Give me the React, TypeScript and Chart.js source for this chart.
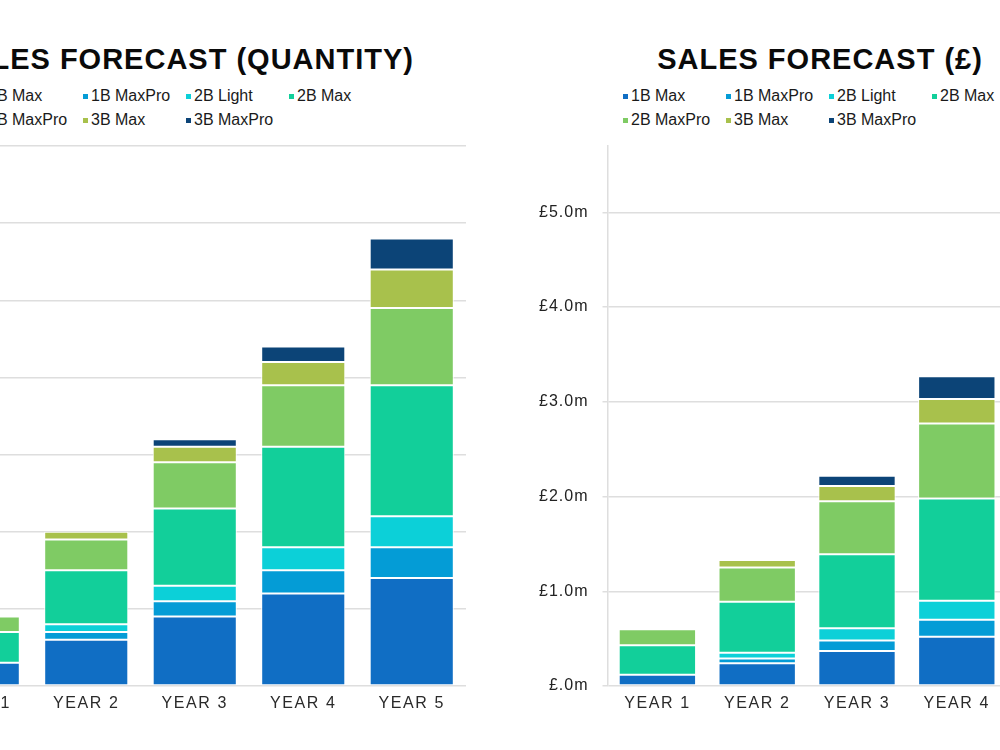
import React, { useEffect, useRef } from 'react';
import { Chart, registerables, CategoryScale, LinearScale } from 'chart.js';

Chart.register(...registerables);

// Axis scales that draw their tick labels with a little tracking.
class TrackedCategoryScale extends CategoryScale {
  static id = 'trackedCategory';
  drawLabels(area: any) {
    const ctx = (this as any).ctx as CanvasRenderingContext2D;
    ctx.save();
    (ctx as any).letterSpacing = '1.6px';
    super.drawLabels(area);
    ctx.restore();
  }
}
class TrackedLinearScale extends LinearScale {
  static id = 'trackedLinear';
  drawLabels(area: any) {
    const ctx = (this as any).ctx as CanvasRenderingContext2D;
    ctx.save();
    (ctx as any).letterSpacing = '1px';
    super.drawLabels(area);
    ctx.restore();
  }
}
Chart.register(TrackedCategoryScale as any, TrackedLinearScale as any);

const FONT = "'Liberation Sans', Arial, sans-serif";

const years = ['YEAR 1', 'YEAR 2', 'YEAR 3', 'YEAR 4', 'YEAR 5'];
const products = ['1B Max', '1B MaxPro', '2B Light', '2B Max', '2B MaxPro', '3B Max', '3B MaxPro'];
const productColors = ['#106EC4', '#049CD6', '#0CD0D8', '#12CF9A', '#7FCB64', '#A8C14C', '#0C4477'];

// Units sold per product, per year
const qty1BMax = [30, 60, 90, 120, 140];
const qty1BMaxPro = [0, 10, 20, 30, 40];
const qty2BLight = [0, 10, 20, 30, 40];
const qty2BMax = [40, 70, 100, 130, 170];
const qty2BMaxPro = [20, 40, 60, 80, 100];
const qty3BMax = [0, 10, 20, 30, 50];
const qty3BMaxPro = [0, 0, 10, 20, 40];

// Revenue per product, per year (£ millions)
const rev1BMax = [0.12, 0.24, 0.37, 0.52, 0.64];
const rev1BMaxPro = [0, 0.05, 0.11, 0.18, 0.25];
const rev2BLight = [0, 0.06, 0.13, 0.2, 0.28];
const rev2BMax = [0.31, 0.54, 0.78, 1.08, 1.48];
const rev2BMaxPro = [0.17, 0.36, 0.56, 0.79, 1.04];
const rev3BMax = [0, 0.08, 0.16, 0.26, 0.46];
const rev3BMaxPro = [0, 0, 0.11, 0.24, 0.5];

const qtySeries = [qty1BMax, qty1BMaxPro, qty2BLight, qty2BMax, qty2BMaxPro, qty3BMax, qty3BMaxPro];
const revSeries = [rev1BMax, rev1BMaxPro, rev2BLight, rev2BMax, rev2BMaxPro, rev3BMax, rev3BMaxPro];

const qtyMax = 700;
const qtyStep = 100;
const revMax = 5.7;
const revStep = 1;

const formatMillions = (v: number) => (v === 0 ? '£.0m' : `£${v.toFixed(1)}m`);

type PanelProps = {
  series: number[][];
  max: number;
  step: number;
  wholeTicksOnly?: boolean;
  format?: (v: number) => string;
  width: number;
  height: number;
  yAxisWidth: number;
  padRight: number;
};

function StackedBars({ series, max, step, wholeTicksOnly, format, width, height, yAxisWidth, padRight }: PanelProps) {
  const ref = useRef<HTMLCanvasElement | null>(null);
  useEffect(() => {
    if (!ref.current) return;
    const grid = '#dedede';
    const chart = new Chart(ref.current, {
      type: 'bar',
      data: {
        labels: years,
        datasets: products.map((name, i) => ({
          label: name,
          data: series[i],
          backgroundColor: productColors[i],
          borderColor: '#ffffff',
          borderWidth: 1,
          borderSkipped: false,
          categoryPercentage: 1,
          barPercentage: 0.775,
        })),
      },
      options: {
        responsive: false,
        animation: false,
        layout: { padding: { top: 40, right: padRight, bottom: 10, left: 0 } },
        plugins: {
          legend: { display: false },
          title: { display: false },
          tooltip: { enabled: false },
        },
        scales: {
          x: {
            type: 'trackedCategory' as any,
            stacked: true,
            grid: { display: false, drawTicks: false },
            border: { display: false },
            ticks: { padding: 8, color: '#2a2a2a', font: { family: FONT, size: 16 } },
            afterFit: (s: any) => {
              s.height = 40;
            },
          },
          y: {
            type: 'trackedLinear' as any,
            stacked: true,
            min: 0,
            max,
            ticks: {
              stepSize: step,
              padding: 14,
              color: '#222222',
              font: { family: FONT, size: 16 },
              callback: (v: any) => (format ? format(Number(v)) : String(v)),
            },
            grid: { color: grid, lineWidth: 1.5, tickLength: 5, drawTicks: true },
            border: { display: true, color: grid, width: 1.5 },
            afterBuildTicks: (s: any) => {
              if (wholeTicksOnly) {
                s.ticks = s.ticks.filter((t: any) => Math.abs(t.value - Math.round(t.value)) < 1e-9);
              }
            },
            afterFit: (s: any) => {
              s.width = yAxisWidth;
            },
          },
        },
      } as any,
    });
    return () => chart.destroy();
  }, []);
  return <canvas ref={ref} width={width} height={height} style={{ display: 'block', width, height }} />;
}

function Legend({ left }: { left: number }) {
  return (
    <div
      style={{
        position: 'absolute',
        left,
        top: 84,
        display: 'grid',
        gridTemplateColumns: 'repeat(4, 103px)',
        gridAutoRows: '24px',
        fontFamily: FONT,
        fontSize: 16,
        color: '#1a1a1a',
        whiteSpace: 'nowrap',
      }}
    >
      {products.map((name, i) => (
        <div key={name} style={{ display: 'flex', alignItems: 'center', height: 24 }}>
          <span
            style={{
              display: 'inline-block',
              width: 5,
              height: 5,
              background: productColors[i],
              marginRight: 3,
              flex: '0 0 auto',
            }}
          />
          <span style={{ lineHeight: '24px' }}>{name}</span>
        </div>
      ))}
    </div>
  );
}

const titleStyle: React.CSSProperties = {
  position: 'absolute',
  top: 44.5,
  fontFamily: FONT,
  fontWeight: 700,
  fontSize: 29,
  lineHeight: '29px',
  letterSpacing: '1px',
  color: '#0a0a0a',
  whiteSpace: 'nowrap',
};

export default function App() {
  return (
    <div
      style={{
        position: 'fixed',
        left: 0,
        top: 0,
        width: 1000,
        height: 750,
        overflow: 'hidden',
        background: '#ffffff',
      }}
    >
      {/* Units panel */}
      <div style={{ ...titleStyle, right: 1000 - 414 }}>SALES FORECAST (QUANTITY)</div>
      <Legend left={-20} />
      <div style={{ position: 'absolute', left: -160, top: 106 }}>
        <StackedBars
          series={qtySeries}
          max={qtyMax}
          step={qtyStep}
          width={640}
          height={630}
          yAxisWidth={83.5}
          padRight={14}
        />
      </div>

      {/* Revenue panel */}
      <div style={{ ...titleStyle, left: 520, width: 600, textAlign: 'center' }}>SALES FORECAST (£)</div>
      <Legend left={623} />
      <div style={{ position: 'absolute', left: 520, top: 106 }}>
        <StackedBars
          series={revSeries}
          max={revMax}
          step={revStep}
          wholeTicksOnly
          format={formatMillions}
          width={600}
          height={630}
          yAxisWidth={87.5}
          padRight={13.5}
        />
      </div>
    </div>
  );
}
